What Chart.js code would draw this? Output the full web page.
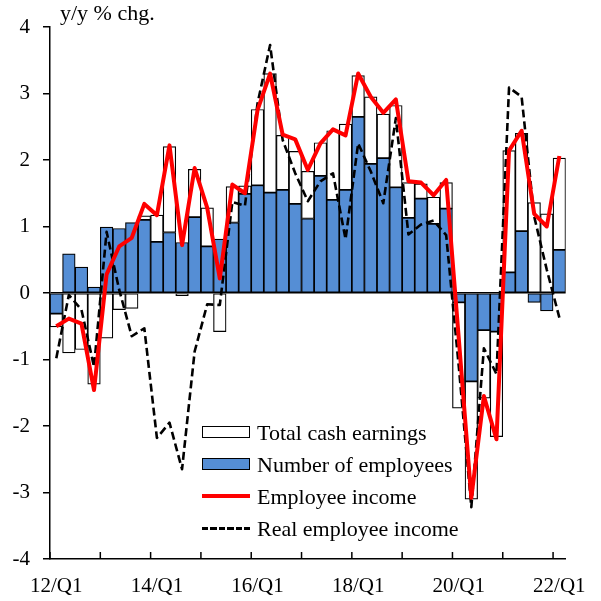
<!DOCTYPE html>
<html>
<head>
<meta charset="utf-8">
<script src="https://cdn.jsdelivr.net/npm/chart.js@4.4.1/dist/chart.umd.min.js"></script>
<style>
  body { margin: 0; background: #fff; }
  #wrap { position: relative; width: 601px; height: 601px; font-family: 'Liberation Serif', 'Times New Roman', serif; color: #000; }
  #wrap canvas { position: absolute; left: 0; top: 0; }
  .unit { position: absolute; left: 60px; top: 2px; font-size: 22px; line-height: 22px; white-space: pre; }
  .lg-swatch { position: absolute; left: 202px; width: 48px; box-sizing: border-box; }
  .lg-text { position: absolute; left: 257px; font-size: 22px; line-height: 32px; white-space: nowrap; }
</style>
</head>
<body>
<div id="wrap">
  <canvas id="chart" width="601" height="601"></canvas>
  <div class="unit">y/y % chg.</div>
  <div id="legend"></div>
</div>
<script>
// ── DATA (y/y % chg., quarterly) ──
const QUARTERS = [
  '12/Q1','12/Q2','12/Q3','12/Q4','13/Q1','13/Q2','13/Q3','13/Q4',
  '14/Q1','14/Q2','14/Q3','14/Q4','15/Q1','15/Q2','15/Q3','15/Q4',
  '16/Q1','16/Q2','16/Q3','16/Q4','17/Q1','17/Q2','17/Q3','17/Q4',
  '18/Q1','18/Q2','18/Q3','18/Q4','19/Q1','19/Q2','19/Q3','19/Q4',
  '20/Q1','20/Q2','20/Q3','20/Q4','21/Q1','21/Q2','21/Q3','21/Q4',
  '22/Q1'
];
const TICK_LABELS = ['12/Q1', '14/Q1', '16/Q1', '18/Q1', '20/Q1', '22/Q1'];

const EMPLOYEES = [
  -0.31, 0.59, 0.39, 0.09, 0.99, 0.97, 1.06, 1.10, 0.77, 0.91,
  0.76, 1.14, 0.70, 0.81, 1.06, 1.49, 1.62, 1.51, 1.55, 1.34,
  1.12, 1.76, 1.40, 1.55, 2.65, 1.94, 2.03, 1.59, 1.13, 1.42,
  1.04, 1.27, -0.14, -1.33, -0.56, -0.58, 0.31, 0.93, -0.14, -0.27,
  0.65
];
const CASH_EARNINGS = [
  -0.20, -0.90, -0.85, -1.37, -0.68, -0.25, -0.23, 0.06, 0.40, 1.29,
  -0.04, 0.72, 0.58, -0.58, 0.54, 0.12, 1.14, 1.79, 0.82, 0.79,
  0.71, 0.50, 1.04, 0.99, 0.62, 1.01, 0.66, 1.23, 0.53, 0.22,
  0.40, 0.39, -1.59, -1.77, -1.02, -1.58, 1.83, 1.47, 1.36, 1.19,
  1.38
];
const INCOME = [
  -0.50, -0.385, -0.46, -1.46, 0.28, 0.70, 0.83, 1.34, 1.17, 2.22,
  0.72, 1.88, 1.28, 0.22, 1.63, 1.50, 2.75, 3.30, 2.38, 2.31,
  1.85, 2.25, 2.46, 2.37, 3.30, 2.95, 2.71, 2.91, 1.68, 1.66,
  1.47, 1.70, -0.68, -3.08, -1.55, -2.20, 2.14, 2.44, 1.19, 1.00,
  2.06
];
const REAL_INCOME = [
  -0.98, -0.03, -0.25, -1.11, 0.92, 0.05, -0.65, -0.53, -2.18, -1.95,
  -2.65, -0.88, -0.17, -0.18, 1.37, 1.31, 2.85, 3.73, 2.30, 1.80,
  1.38, 1.68, 1.80, 0.81, 2.25, 1.83, 1.35, 2.63, 0.88, 1.03,
  1.09, 0.87, -1.10, -3.22, -0.83, -1.22, 3.09, 2.95, 1.15, 0.35,
  -0.37
];

const BLUE = '#558ed5';
const RED = '#ff0000';

// ── LEGEND (html, inside plot) ──
const LEGEND = [
  { text: 'Total cash earnings', kind: 'box', fill: '#ffffff' },
  { text: 'Number of employees', kind: 'box', fill: BLUE },
  { text: 'Employee income', kind: 'line' },
  { text: 'Real employee income', kind: 'dash' },
];

function buildLegend() {
  const el = document.getElementById('legend');
  el.innerHTML = LEGEND.map((item, i) => {
    const cy = 432 + 32 * i;
    const base = 440 + 32 * i;
    let sw;
    if (item.kind === 'box') {
      sw = `<div class="lg-swatch" style="top:${cy - 6}px;height:12px;border:1px solid #000;background:${item.fill}"></div>`;
    } else if (item.kind === 'line') {
      sw = `<div class="lg-swatch" style="top:${cy - 2}px;height:4px;background:${RED}"></div>`;
    } else {
      sw = `<div class="lg-swatch" style="top:${cy - 1}px;height:3px;background:repeating-linear-gradient(to right,#000 0 6px,transparent 6px 8.5px)"></div>`;
    }
    return sw + `<div class="lg-text" style="top:${base - 23.4}px">${item.text}</div>`;
  }).join('');
}

// ── year tick marks on the x axis, pointing up ──
const yearTicks = {
  id: 'yearTicks',
  afterDraw(chart) {
    const { ctx, chartArea } = chart;
    const x = chart.scales.x;
    ctx.save();
    ctx.strokeStyle = '#000';
    ctx.lineWidth = 1.5;
    for (let i = 0; i < QUARTERS.length; i += 4) {
      const px = x.getPixelForValue(i - 0.5);
      ctx.beginPath();
      ctx.moveTo(px, chartArea.bottom);
      ctx.lineTo(px, chartArea.bottom - 7);
      ctx.stroke();
    }
    ctx.restore();
  }
};

Chart.defaults.font.family = "'Liberation Serif', 'Times New Roman', serif";
Chart.defaults.color = '#000';

new Chart(document.getElementById('chart'), {
  type: 'bar',
  data: {
    labels: QUARTERS,
    datasets: [
      {
        label: 'Employee income',
        type: 'line',
        data: INCOME,
        borderColor: RED,
        borderWidth: 4,
        borderJoinStyle: 'round',
        pointRadius: 0,
        tension: 0,
        fill: false,
        stack: 'income',
        order: 0,
      },
      {
        label: 'Real employee income',
        type: 'line',
        data: REAL_INCOME,
        borderColor: '#000',
        borderWidth: 2.6,
        borderDash: [8, 4],
        borderJoinStyle: 'round',
        pointRadius: 0,
        tension: 0,
        fill: false,
        stack: 'real',
        order: 1,
      },
      {
        label: 'Number of employees',
        data: EMPLOYEES,
        backgroundColor: BLUE,
        borderColor: '#000',
        borderWidth: 1.2,
        borderSkipped: false,
        categoryPercentage: 1,
        barPercentage: 1,
        stack: 'bars',
        order: 2,
      },
      {
        label: 'Total cash earnings',
        data: CASH_EARNINGS,
        backgroundColor: '#ffffff',
        borderColor: '#000',
        borderWidth: 1.2,
        borderSkipped: false,
        categoryPercentage: 1,
        barPercentage: 1,
        stack: 'bars',
        order: 2,
      },
    ]
  },
  options: {
    responsive: false,
    animation: false,
    devicePixelRatio: 1,
    layout: { padding: { top: 27, right: 32, left: 0, bottom: 0 } },
    plugins: {
      legend: { display: false },
      tooltip: { enabled: false },
    },
    scales: {
      x: {
        stacked: true,
        offset: true,
        grid: { display: false, drawTicks: false },
        border: { display: true, color: '#000', width: 1.5 },
        ticks: {
          autoSkip: false,
          maxRotation: 0,
          padding: 15,
          color: '#000',
          font: { size: 21 },
          callback: (v, i) => TICK_LABELS.includes(QUARTERS[i]) ? QUARTERS[i] : '',
        },
        afterFit: s => { s.height = 42; },
      },
      y: {
        stacked: true,
        min: -4,
        max: 4,
        ticks: { stepSize: 1, padding: 13, color: '#000', font: { size: 21 } },
        grid: {
          color: c => (c.tick && c.tick.value === 0) ? '#000' : 'rgba(0,0,0,0)',
          lineWidth: 1.5,
          tickColor: '#000',
          tickLength: 7,
          tickWidth: 1.5,
        },
        border: { display: true, color: '#000', width: 1.5 },
        afterFit: s => { s.width = 50; },
      }
    }
  },
  plugins: [yearTicks]
});

buildLegend();
</script>
</body>
</html>
